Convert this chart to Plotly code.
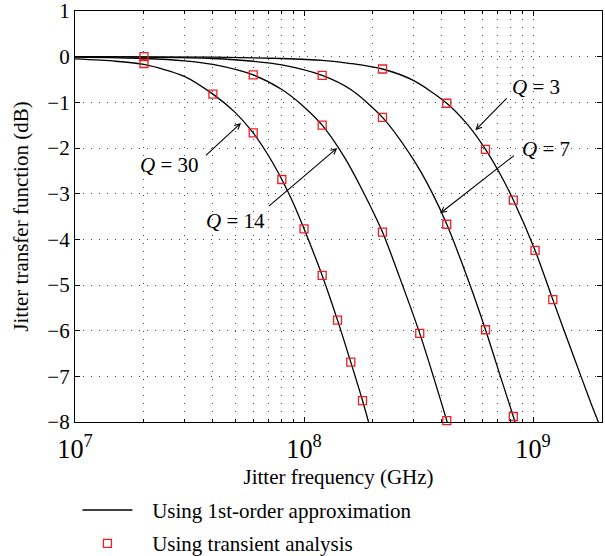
import plotly.graph_objects as go

# ---- data ----
freq_q30 = [1e7, 1.5e7, 2e7, 3e7, 4e7, 5e7, 6e7, 7e7, 8e7, 9e7, 1e8, 1.2e8, 1.4e8, 1.6e8, 1.8e8, 2e8]
db_q30 = [-0.05, -0.10, -0.17, -0.43, -0.82, -1.22, -1.67, -2.17, -2.69, -3.22, -3.77, -4.79, -5.77, -6.69, -7.53, -8.35]

freq_q14 = [1e7, 2e7, 3e7, 4e7, 6e7, 8e7, 1e8, 1.2e8, 1.5e8, 1.8e8, 2.2e8, 2.6e8, 3.2e8, 3.7e8, 4.2e8, 4.6e8]
db_q14 = [-0.01, -0.04, -0.09, -0.17, -0.40, -0.72, -1.10, -1.50, -2.20, -2.93, -3.84, -4.80, -6.06, -7.06, -7.97, -8.65]

freq_q7 = [1e7, 2e7, 4e7, 6e7, 8e7, 1.2e8, 1.6e8, 2.2e8, 3e8, 3.6e8, 4.2e8, 5.2e8, 6.2e8, 7.2e8, 8.2e8, 9e8]
db_q7 = [0.0, -0.01, -0.04, -0.10, -0.18, -0.41, -0.72, -1.33, -2.25, -2.95, -3.67, -4.88, -5.98, -7.00, -7.88, -8.55]

freq_q3 = [1e7, 4e7, 8e7, 1.2e8, 1.6e8, 2.2e8, 3e8, 4.2e8, 5.2e8, 6.2e8, 7.2e8, 8.2e8, 1.02e9, 1.22e9, 1.5e9, 1.8e9, 2e9]
db_q3 = [0.0, -0.01, -0.04, -0.08, -0.15, -0.27, -0.52, -1.02, -1.50, -2.03, -2.58, -3.14, -4.24, -5.32, -6.55, -7.62, -8.20]

sq_q3_f = [2e7, 2.2e8, 4.2e8, 6.2e8, 8.2e8, 1.02e9, 1.22e9]
sq_q3_db = [0.0, -0.27, -1.02, -2.03, -3.14, -4.24, -5.32]
sq_q7_f = [1.2e8, 2.2e8, 4.2e8, 6.2e8, 8.2e8]
sq_q7_db = [-0.41, -1.33, -3.67, -5.98, -7.88]
sq_q14_f = [6e7, 1.2e8, 2.2e8, 3.2e8, 4.2e8]
sq_q14_db = [-0.40, -1.50, -3.84, -6.06, -7.97]
sq_q30_f = [2e7, 4e7, 6e7, 8e7, 1e8, 1.2e8, 1.4e8, 1.6e8, 1.8e8]
sq_q30_db = [-0.15, -0.82, -1.67, -2.69, -3.77, -4.79, -5.77, -6.69, -7.53]

curves = [(freq_q3, db_q3), (freq_q7, db_q7), (freq_q14, db_q14), (freq_q30, db_q30)]
squares = [(sq_q3_f, sq_q3_db), (sq_q7_f, sq_q7_db), (sq_q14_f, sq_q14_db), (sq_q30_f, sq_q30_db)]

line_name = "Using 1st-order approximation"
marker_name = "Using transient analysis"

FONT = "Liberation Serif"
FS = 21
RED = "rgb(236,32,36)"
PAD = "\u2002\u2009"  # visual gap between legend symbol and text

fig = go.Figure()
for i, (f, d) in enumerate(curves):
    fig.add_trace(go.Scatter(
        x=f, y=d, mode="lines", line=dict(color="black", width=1.3, shape="spline", smoothing=0.8),
        name=PAD + line_name, showlegend=(i == 0), legendgroup="g1", hoverinfo="skip"))
for i, (f, d) in enumerate(squares):
    fig.add_trace(go.Scatter(
        x=f, y=d, mode="markers", cliponaxis=False,
        marker=dict(symbol="square-open", size=8, color=RED, line=dict(width=1.3, color=RED)),
        name=PAD + marker_name, showlegend=(i == 0), legendgroup="g2", hoverinfo="skip"))

# annotations (arrow head, arrow tail, label position) in axis units (log10 for x)
labels = ["<i>Q</i> = 3", "<i>Q</i> = 7", "<i>Q</i> = 14", "<i>Q</i> = 30"]
heads = [(8.748, -1.61), (8.594, -3.43), (8.145, -2.00), (7.725, -1.45)]
tails = [(8.891, -0.88), (8.923, -2.14), (7.840, -3.30), (7.565, -2.19)]
label_pos = [(9.013, -0.67), (9.057, -2.02), (7.700, -3.60), (7.413, -2.375)]

for lab, h, t, p in zip(labels, heads, tails, label_pos):
    fig.add_annotation(x=h[0], y=h[1], ax=t[0], ay=t[1], xref="x", yref="y", axref="x", ayref="y",
                       text="", showarrow=True, arrowhead=5, arrowsize=1.0, arrowwidth=1.1,
                       arrowcolor="black", standoff=0, startstandoff=0)
    fig.add_annotation(x=p[0], y=p[1], xref="x", yref="y", text=lab, showarrow=False,
                       font=dict(family=FONT, size=FS, color="black"))

# y-axis title placed as a rotated annotation left of the tick labels
fig.add_annotation(x=-0.104, y=0.5, xref="paper", yref="paper", text="Jitter transfer function (dB)",
                   textangle=-90, showarrow=False, xanchor="center", yanchor="middle",
                   font=dict(family=FONT, size=FS, color="black"))

grid_dash = "1px,7px"
fig.update_xaxes(
    type="log", range=[7, 9.301], dtick=1, exponentformat="power",
    showline=True, linecolor="black", linewidth=1.3, mirror="ticks",
    ticks="inside", ticklen=5, tickcolor="black", tickwidth=1,
    showgrid=True, gridcolor="#444", gridwidth=1, griddash=grid_dash,
    minor=dict(dtick="D1", ticks="inside", ticklen=3, tickcolor="black",
               showgrid=True, gridcolor="#444", gridwidth=1, griddash=grid_dash),
    tickfont=dict(family=FONT, size=FS, color="black"), ticklabeloverflow="allow",
    ticklabelstandoff=4,
    title=dict(text="Jitter frequency (GHz)", font=dict(family=FONT, size=FS, color="black"), standoff=6),
    zeroline=False, automargin=True,
)
fig.update_yaxes(
    range=[-8, 1], dtick=1,
    showline=True, linecolor="black", linewidth=1.3, mirror="ticks",
    ticks="inside", ticklen=5, tickcolor="black", tickwidth=1,
    showgrid=True, gridcolor="#444", gridwidth=1, griddash=grid_dash,
    tickfont=dict(family=FONT, size=FS, color="black"), ticklabeloverflow="allow",
    zeroline=False, automargin=False,
)
fig.update_layout(
    width=605, height=556,
    margin=dict(l=75, r=3, t=11, b=134, autoexpand=False),
    plot_bgcolor="white", paper_bgcolor="white",
    font=dict(family=FONT, size=FS, color="black"),
    legend=dict(xref="container", yref="container", x=0.128, y=0.119, xanchor="left", yanchor="top",
                orientation="v", traceorder="grouped", tracegroupgap=3, itemwidth=50,
                font=dict(family=FONT, size=FS, color="black"), bgcolor="rgba(0,0,0,0)"),
)
fig.write_html("out.html")
